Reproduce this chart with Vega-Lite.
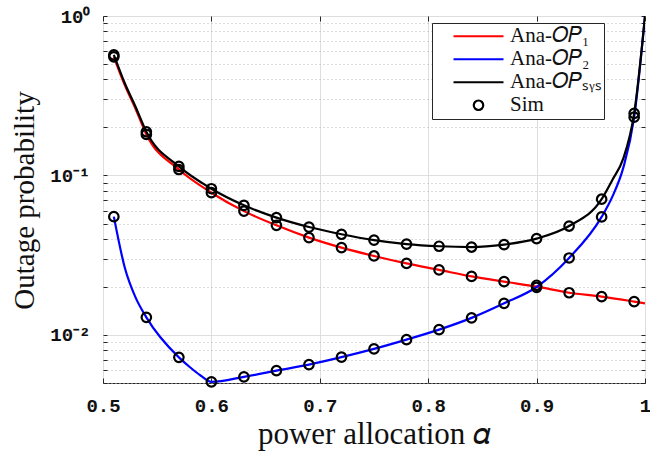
{
  "$schema": "https://vega.github.io/schema/vega-lite/v6.json",
  "width": 542,
  "height": 367,
  "autosize": {"type": "none"},
  "padding": {"left": 103, "top": 16, "right": 5, "bottom": 68},
  "background": "white",
  "config": {
    "view": {"stroke": "#262626", "strokeWidth": 1},
    "axis": {"domain": false, "tickColor": "#262626", "labelColor": "#111111", "titleColor": "#111111"}
  },
  "datasets": {
    "ana": [
      {"a": 0.51, "p": 0.555, "s": "Ana-𝑂𝑃₁"},
      {"a": 0.52, "p": 0.37, "s": "Ana-𝑂𝑃₁"},
      {"a": 0.53, "p": 0.262, "s": "Ana-𝑂𝑃₁"},
      {"a": 0.54, "p": 0.181, "s": "Ana-𝑂𝑃₁"},
      {"a": 0.57, "p": 0.109, "s": "Ana-𝑂𝑃₁"},
      {"a": 0.60, "p": 0.078, "s": "Ana-𝑂𝑃₁"},
      {"a": 0.63, "p": 0.0598, "s": "Ana-𝑂𝑃₁"},
      {"a": 0.66, "p": 0.0487, "s": "Ana-𝑂𝑃₁"},
      {"a": 0.69, "p": 0.0408, "s": "Ana-𝑂𝑃₁"},
      {"a": 0.72, "p": 0.0353, "s": "Ana-𝑂𝑃₁"},
      {"a": 0.75, "p": 0.0313, "s": "Ana-𝑂𝑃₁"},
      {"a": 0.78, "p": 0.0281, "s": "Ana-𝑂𝑃₁"},
      {"a": 0.81, "p": 0.0256, "s": "Ana-𝑂𝑃₁"},
      {"a": 0.84, "p": 0.0233, "s": "Ana-𝑂𝑃₁"},
      {"a": 0.87, "p": 0.0216, "s": "Ana-𝑂𝑃₁"},
      {"a": 0.90, "p": 0.0201, "s": "Ana-𝑂𝑃₁"},
      {"a": 0.93, "p": 0.0184, "s": "Ana-𝑂𝑃₁"},
      {"a": 0.96, "p": 0.0174, "s": "Ana-𝑂𝑃₁"},
      {"a": 0.99, "p": 0.0162, "s": "Ana-𝑂𝑃₁"},
      {"a": 1.00, "p": 0.0158, "s": "Ana-𝑂𝑃₁"},
      {"a": 0.51, "p": 0.0552, "s": "Ana-𝑂𝑃₂"},
      {"a": 0.52, "p": 0.0266, "s": "Ana-𝑂𝑃₂"},
      {"a": 0.53, "p": 0.0172, "s": "Ana-𝑂𝑃₂"},
      {"a": 0.54, "p": 0.0129, "s": "Ana-𝑂𝑃₂"},
      {"a": 0.57, "p": 0.00724, "s": "Ana-𝑂𝑃₂"},
      {"a": 0.58, "p": 0.0063, "s": "Ana-𝑂𝑃₂"},
      {"a": 0.59, "p": 0.00557, "s": "Ana-𝑂𝑃₂"},
      {"a": 0.60, "p": 0.00508, "s": "Ana-𝑂𝑃₂"},
      {"a": 0.63, "p": 0.00546, "s": "Ana-𝑂𝑃₂"},
      {"a": 0.66, "p": 0.00598, "s": "Ana-𝑂𝑃₂"},
      {"a": 0.69, "p": 0.00652, "s": "Ana-𝑂𝑃₂"},
      {"a": 0.72, "p": 0.00726, "s": "Ana-𝑂𝑃₂"},
      {"a": 0.75, "p": 0.00818, "s": "Ana-𝑂𝑃₂"},
      {"a": 0.78, "p": 0.00935, "s": "Ana-𝑂𝑃₂"},
      {"a": 0.81, "p": 0.0108, "s": "Ana-𝑂𝑃₂"},
      {"a": 0.84, "p": 0.0128, "s": "Ana-𝑂𝑃₂"},
      {"a": 0.87, "p": 0.0158, "s": "Ana-𝑂𝑃₂"},
      {"a": 0.90, "p": 0.0200, "s": "Ana-𝑂𝑃₂"},
      {"a": 0.93, "p": 0.0304, "s": "Ana-𝑂𝑃₂"},
      {"a": 0.96, "p": 0.055, "s": "Ana-𝑂𝑃₂"},
      {"a": 0.97, "p": 0.074, "s": "Ana-𝑂𝑃₂"},
      {"a": 0.98, "p": 0.112, "s": "Ana-𝑂𝑃₂"},
      {"a": 0.99, "p": 0.232, "s": "Ana-𝑂𝑃₂"},
      {"a": 1.00, "p": 1.0, "s": "Ana-𝑂𝑃₂"},
      {"a": 0.51, "p": 0.57, "s": "Ana-𝑂𝑃ₛᵧₛ"},
      {"a": 0.52, "p": 0.38, "s": "Ana-𝑂𝑃ₛᵧₛ"},
      {"a": 0.53, "p": 0.27, "s": "Ana-𝑂𝑃ₛᵧₛ"},
      {"a": 0.54, "p": 0.188, "s": "Ana-𝑂𝑃ₛᵧₛ"},
      {"a": 0.57, "p": 0.114, "s": "Ana-𝑂𝑃ₛᵧₛ"},
      {"a": 0.60, "p": 0.0826, "s": "Ana-𝑂𝑃ₛᵧₛ"},
      {"a": 0.63, "p": 0.065, "s": "Ana-𝑂𝑃ₛᵧₛ"},
      {"a": 0.66, "p": 0.0544, "s": "Ana-𝑂𝑃ₛᵧₛ"},
      {"a": 0.69, "p": 0.0475, "s": "Ana-𝑂𝑃ₛᵧₛ"},
      {"a": 0.72, "p": 0.0428, "s": "Ana-𝑂𝑃ₛᵧₛ"},
      {"a": 0.75, "p": 0.0393, "s": "Ana-𝑂𝑃ₛᵧₛ"},
      {"a": 0.78, "p": 0.0371, "s": "Ana-𝑂𝑃ₛᵧₛ"},
      {"a": 0.81, "p": 0.036, "s": "Ana-𝑂𝑃ₛᵧₛ"},
      {"a": 0.84, "p": 0.0356, "s": "Ana-𝑂𝑃ₛᵧₛ"},
      {"a": 0.87, "p": 0.0369, "s": "Ana-𝑂𝑃ₛᵧₛ"},
      {"a": 0.90, "p": 0.0402, "s": "Ana-𝑂𝑃ₛᵧₛ"},
      {"a": 0.93, "p": 0.0482, "s": "Ana-𝑂𝑃ₛᵧₛ"},
      {"a": 0.96, "p": 0.071, "s": "Ana-𝑂𝑃ₛᵧₛ"},
      {"a": 0.97, "p": 0.094, "s": "Ana-𝑂𝑃ₛᵧₛ"},
      {"a": 0.98, "p": 0.128, "s": "Ana-𝑂𝑃ₛᵧₛ"},
      {"a": 0.99, "p": 0.245, "s": "Ana-𝑂𝑃ₛᵧₛ"},
      {"a": 1.00, "p": 1.0, "s": "Ana-𝑂𝑃ₛᵧₛ"}
    ],
    "sim": [
      {"a": 0.51, "p": 0.555}, {"a": 0.54, "p": 0.181}, {"a": 0.57, "p": 0.109}, {"a": 0.60, "p": 0.078},
      {"a": 0.63, "p": 0.0598}, {"a": 0.66, "p": 0.0487}, {"a": 0.69, "p": 0.0408}, {"a": 0.72, "p": 0.0353},
      {"a": 0.75, "p": 0.0313}, {"a": 0.78, "p": 0.0281}, {"a": 0.81, "p": 0.0256}, {"a": 0.84, "p": 0.0233},
      {"a": 0.87, "p": 0.0216}, {"a": 0.90, "p": 0.0205}, {"a": 0.93, "p": 0.0184}, {"a": 0.96, "p": 0.0174},
      {"a": 0.99, "p": 0.0162},
      {"a": 0.51, "p": 0.0552}, {"a": 0.54, "p": 0.0129}, {"a": 0.57, "p": 0.00724}, {"a": 0.60, "p": 0.00508},
      {"a": 0.63, "p": 0.00546}, {"a": 0.66, "p": 0.00598}, {"a": 0.69, "p": 0.00652}, {"a": 0.72, "p": 0.00726},
      {"a": 0.75, "p": 0.00818}, {"a": 0.78, "p": 0.00935}, {"a": 0.81, "p": 0.0108}, {"a": 0.84, "p": 0.0128},
      {"a": 0.87, "p": 0.0158}, {"a": 0.90, "p": 0.0199}, {"a": 0.93, "p": 0.0304}, {"a": 0.96, "p": 0.055},
      {"a": 0.99, "p": 0.232},
      {"a": 0.51, "p": 0.57}, {"a": 0.54, "p": 0.188}, {"a": 0.57, "p": 0.114}, {"a": 0.60, "p": 0.0826},
      {"a": 0.63, "p": 0.065}, {"a": 0.66, "p": 0.0544}, {"a": 0.69, "p": 0.0475}, {"a": 0.72, "p": 0.0428},
      {"a": 0.75, "p": 0.0393}, {"a": 0.78, "p": 0.0371}, {"a": 0.81, "p": 0.036}, {"a": 0.84, "p": 0.0356},
      {"a": 0.87, "p": 0.0369}, {"a": 0.90, "p": 0.0402}, {"a": 0.93, "p": 0.0482}, {"a": 0.96, "p": 0.071},
      {"a": 0.99, "p": 0.245}
    ]
  },
  "layer": [
    {
      "data": {"name": "ana"},
      "mark": {"type": "line", "interpolate": "monotone", "strokeWidth": 2.2, "clip": true},
      "encoding": {
        "x": {
          "field": "a", "type": "quantitative",
          "scale": {"domain": [0.5, 1], "nice": false, "zero": false},
          "axis": {
            "orient": "bottom",
            "values": [0.5, 0.6, 0.7, 0.8, 0.9, 1],
            "labelExpr": "datum.value >= 0.999 ? '1' : format(datum.value, '.1f')",
            "labelFont": "Liberation Mono", "labelFontWeight": "bold", "labelFontSize": 19,
            "labelPadding": 18, "tickSize": -5, "labelOverlap": false, "labelBound": false, "labelFlush": false,
            "grid": true, "gridColor": "#dedede", "gridWidth": 1,
            "title": "power allocation 𝛼",
            "titleFont": "Liberation Serif", "titleFontWeight": "normal", "titleFontSize": 31,
            "titleBaseline": "alphabetic", "titleY": 60
          }
        },
        "y": {
          "field": "p", "type": "quantitative",
          "scale": {"type": "log", "domain": [0.005, 1], "nice": false},
          "axis": {
            "orient": "left",
            "values": [0.005, 0.006, 0.007, 0.008, 0.009, 0.01, 0.02, 0.03, 0.04, 0.05, 0.06, 0.07, 0.08, 0.09, 0.1, 0.2, 0.3, 0.4, 0.5, 0.6, 0.7, 0.8, 0.9, 1],
            "labelExpr": "datum.value >= 0.999 ? '10⁰' : (abs(datum.value - 0.1) < 1e-9 ? '10⁻¹' : (abs(datum.value - 0.01) < 1e-9 ? '10⁻²' : ''))",
            "labelFont": "Liberation Mono", "labelFontWeight": "bold", "labelFontSize": 19,
            "labelPadding": 17, "tickSize": -4, "labelOverlap": false, "labelBound": false, "labelFlush": false,
            "grid": true,
            "gridColor": {"condition": {"test": "abs(log(datum.value)/LN10 - round(log(datum.value)/LN10)) < 0.001", "value": "#dedede"}, "value": "#b8b8b8"},
            "gridDash": {"condition": {"test": "abs(log(datum.value)/LN10 - round(log(datum.value)/LN10)) < 0.001", "value": []}, "value": [1, 3]},
            "title": "Outage probability",
            "titleFont": "Liberation Serif", "titleFontWeight": "normal", "titleFontSize": 29,
            "titleBaseline": "alphabetic", "titleX": -70, "titleY": 184, "titleAngle": 270
          }
        },
        "color": {
          "field": "s", "type": "nominal",
          "scale": {"domain": ["Ana-𝑂𝑃₁", "Ana-𝑂𝑃₂", "Ana-𝑂𝑃ₛᵧₛ", "Sim"], "range": ["#ff0000", "#0000ff", "#000000", "#000000"]},
          "legend": {
            "title": null, "orient": "none", "legendX": 329, "legendY": 7,
            "padding": 2, "strokeColor": "#262626", "fillColor": "white", "cornerRadius": 0,
            "labelFont": "Liberation Serif", "labelFontSize": 21, "labelColor": "#111111", "labelLimit": 400,
            "labelExpr": "datum.label + '\u2003\u2002'",
            "symbolSize": 2500, "symbolType": "stroke", "symbolStrokeWidth": 2, "labelOffset": 5, "symbolOffset": 18,
            "rowPadding": 0, "clipHeight": 22.5,
            "encode": {
              "symbols": {
                "update": {
                  "shape": {"signal": "datum.value === 'Sim' ? 'circle' : 'stroke'"},
                  "size": {"signal": "datum.value === 'Sim' ? 90 : 2500"},
                  "strokeWidth": {"value": 2.2},
                  "fill": {"value": "transparent"}
                }
              }
            }
          }
        }
      }
    },
    {
      "data": {"name": "sim"},
      "mark": {"type": "point", "shape": "circle", "filled": false, "size": 90, "strokeWidth": 2.2, "opacity": 1, "clip": false},
      "encoding": {
        "x": {
          "field": "a", "type": "quantitative",
          "axis": {"orient": "top", "values": [0.5, 0.6, 0.7, 0.8, 0.9, 1], "labels": false, "grid": false, "tickSize": -5, "title": null}
        },
        "y": {
          "field": "p", "type": "quantitative",
          "axis": {
            "orient": "right",
            "values": [0.005, 0.006, 0.007, 0.008, 0.009, 0.01, 0.02, 0.03, 0.04, 0.05, 0.06, 0.07, 0.08, 0.09, 0.1, 0.2, 0.3, 0.4, 0.5, 0.6, 0.7, 0.8, 0.9, 1],
            "labels": false, "grid": false, "tickSize": -4, "title": null
          }
        },
        "color": {"datum": "Sim"}
      }
    }
  ],
  "resolve": {"axis": {"x": "independent", "y": "independent"}}
}
